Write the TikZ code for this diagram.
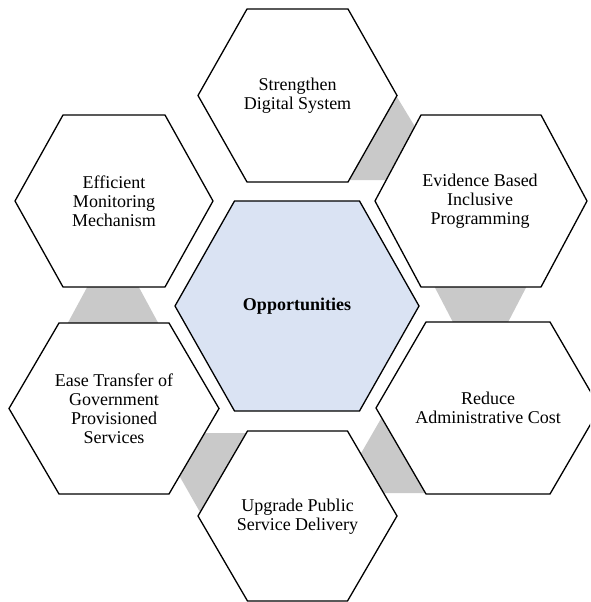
\documentclass[tikz,border=0pt]{standalone}
\usepackage{fontspec}
\setmainfont{Liberation Serif}
\definecolor{bandgray}{RGB}{201,201,201}
\definecolor{oppblue}{RGB}{218,227,243}
\tikzset{
  hexa/.style={draw=black, line width=1.3pt, fill=white, line join=miter},
  band/.style={fill=bandgray, draw=none},
  hextext/.style={align=center, font=\fontsize{18}{19}\selectfont}
}

\begin{document}
\begin{tikzpicture}[x=1pt,y=-1pt]
\clip (0,0) rectangle (590,602);

% gray bands, behind the hexagons
\fill[band] (388,97) -- (397,97) -- (420,135) -- (395,180) -- (340,180) -- cycle;
\fill[band] (91,280) -- (135,280) -- (162,330) -- (64,330) -- cycle;
\fill[band] (431,280) -- (530,280) -- (504,330) -- (457,330) -- cycle;
\fill[band] (195,433) -- (255,433) -- (204.5,520) -- (176,470) -- cycle;
\fill[band] (386,410) -- (356,462) -- (375,493) -- (435,493) -- cycle;

% hexagons
\draw[hexa] (198,95.5) -- (247,9) -- (348,9) -- (397,95.5) -- (348,182) -- (247,182) -- cycle;
\draw[hexa] (15,201) -- (63,115) -- (165,115) -- (213,201) -- (165,287) -- (63,287) -- cycle;
\draw[hexa] (375,201) -- (421,115) -- (541,115) -- (587,201) -- (541,287) -- (421,287) -- cycle;
\draw[hexa, fill=oppblue] (175,306) -- (234.5,201) -- (359.5,201) -- (419,306) -- (359.5,411) -- (234.5,411) -- cycle;
\draw[hexa] (9,408.5) -- (59,323) -- (169,323) -- (219,408.5) -- (169,494) -- (59,494) -- cycle;
\draw[hexa] (198,516) -- (247.5,431) -- (347.5,431) -- (397,516) -- (347.5,601) -- (247.5,601) -- cycle;
\draw[hexa] (376,408) -- (426,322) -- (550,322) -- (600,408) -- (550,494) -- (426,494) -- cycle;

% labels
\node (opp) at (297,306) [hextext] {\textbf{Opportunities}};
\node (digital) at (297.5,95.5) [hextext] {Strengthen\\Digital System};
\node (evidence) at (480,201) [hextext] {Evidence Based\\Inclusive\\Programming};
\node (cost) at (488,408) [hextext] {Reduce\\Administrative Cost};
\node (delivery) at (297.5,517) [hextext] {Upgrade Public\\Service Delivery};
\node (transfer) at (114,409) [hextext] {Ease Transfer of\\Government\\Provisioned\\Services};
\node (monitor) at (114,201) [hextext] {Efficient\\Monitoring\\Mechanism};
\end{tikzpicture}
\end{document}
